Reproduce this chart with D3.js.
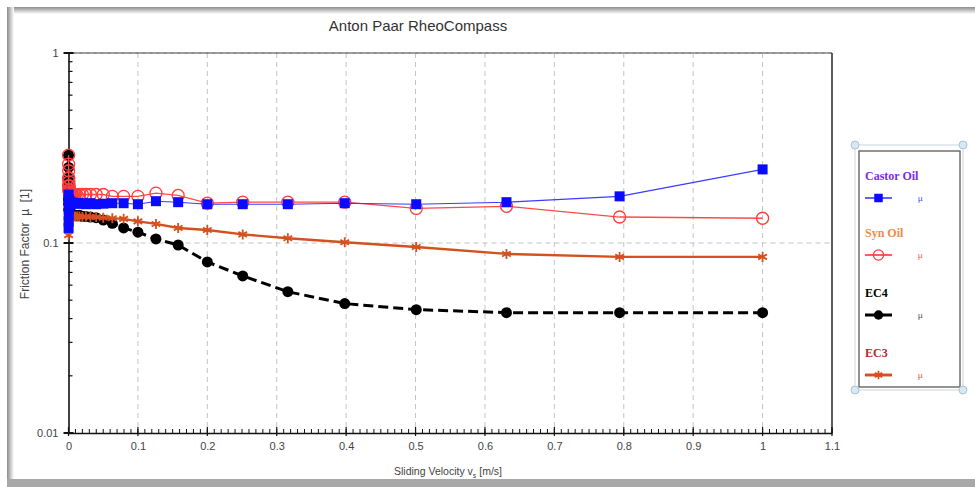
<!DOCTYPE html>
<html>
<head>
<meta charset="utf-8">
<script src="https://cdn.jsdelivr.net/npm/d3@7"></script>
<style>
  body { margin: 0; background: #fff; }
  svg { display: block; font-family: Arial, "Liberation Sans", sans-serif; }
</style>
</head>
<body>
<svg width="975" height="487"></svg>
<script>
// sliding velocity (m/s), log spaced, shared by all four curves
var velocity = [0.0001, 0.000126, 0.000158, 0.0002, 0.000251, 0.000316, 0.000398, 0.000501, 0.000631, 0.000794,
    0.001, 0.00126, 0.00158, 0.002, 0.00251, 0.00316, 0.00398, 0.00501, 0.00631, 0.00794,
    0.01, 0.0126, 0.0158, 0.02, 0.0251, 0.0316, 0.0398, 0.0501, 0.0631, 0.0794,
    0.1, 0.126, 0.158, 0.2, 0.251, 0.316, 0.398, 0.501, 0.631, 0.794, 1];

var castorOil = [0.18, 0.12, 0.17, 0.13, 0.17, 0.14, 0.16, 0.15, 0.165, 0.15,
    0.165, 0.155, 0.165, 0.16, 0.165, 0.16, 0.163, 0.162, 0.163, 0.162,
    0.162, 0.162, 0.161, 0.162, 0.16, 0.162, 0.16, 0.161, 0.162, 0.162,
    0.16, 0.166, 0.164, 0.16, 0.16, 0.16, 0.162, 0.16, 0.164, 0.176, 0.244];

var synOil = [0.29, 0.22, 0.26, 0.2, 0.24, 0.19, 0.22, 0.2, 0.21, 0.19,
    0.2, 0.19, 0.185, 0.19, 0.18, 0.185, 0.18, 0.18, 0.178, 0.18,
    0.18, 0.178, 0.18, 0.18, 0.18, 0.18, 0.18, 0.18, 0.176, 0.176,
    0.176, 0.183, 0.178, 0.162, 0.164, 0.164, 0.164, 0.152, 0.156, 0.137, 0.135];

var ec4 = [0.29, 0.2, 0.25, 0.17, 0.22, 0.16, 0.19, 0.15, 0.17, 0.15,
    0.16, 0.15, 0.15, 0.145, 0.145, 0.14, 0.142, 0.14, 0.14, 0.14,
    0.14, 0.139, 0.14, 0.138, 0.138, 0.137, 0.136, 0.132, 0.127, 0.12,
    0.114, 0.105, 0.0976, 0.0795, 0.0671, 0.0554, 0.048, 0.0446, 0.043, 0.043, 0.043];

var ec3 = [0.155, 0.11, 0.15, 0.12, 0.15, 0.125, 0.145, 0.13, 0.145, 0.132,
    0.142, 0.135, 0.14, 0.136, 0.14, 0.137, 0.139, 0.138, 0.139, 0.138,
    0.138, 0.138, 0.138, 0.137, 0.138, 0.137, 0.137, 0.136, 0.135, 0.134,
    0.13, 0.126, 0.12, 0.117, 0.111, 0.106, 0.101, 0.0953, 0.0876, 0.0845, 0.0845];

var xTicks = [0, 0.1, 0.2, 0.3, 0.4, 0.5, 0.6, 0.7, 0.8, 0.9, 1, 1.1];
var yTicks = [0.01, 0.1, 1];
var yTickLabels = ["0.01", "0.1", "1"];

// drawing order: EC4 at the back, Castor Oil on top
var series = [
    { name: "EC4", values: ec4, line: "#000", width: 3, dash: "10,5", marker: "dot", text: "#000" },
    { name: "EC3", values: ec3, line: "#d4501f", width: 2.4, dash: null, marker: "star", text: "#b8282e" },
    { name: "Syn Oil", values: synOil, line: "#ff4a4a", width: 1.3, dash: null, marker: "ring", text: "#f08a48" },
    { name: "Castor Oil", values: castorOil, line: "#3b3bff", width: 1.1, dash: null, marker: "square", text: "#7a2cf0" }
];

var svg = d3.select("svg");

// screenshot style frame
var defs = svg.append("defs");
var gTop = defs.append("linearGradient").attr("id", "shTop").attr("x1", 0).attr("y1", 0).attr("x2", 0).attr("y2", 1);
gTop.append("stop").attr("offset", "0%").attr("stop-color", "#8c8c8c");
gTop.append("stop").attr("offset", "100%").attr("stop-color", "#fff");
var gLeft = defs.append("linearGradient").attr("id", "shLeft").attr("x1", 0).attr("y1", 0).attr("x2", 1).attr("y2", 0);
gLeft.append("stop").attr("offset", "0%").attr("stop-color", "#8c8c8c");
gLeft.append("stop").attr("offset", "100%").attr("stop-color", "#fff");
svg.append("rect").attr("x", 7).attr("y", 7).attr("width", 968).attr("height", 7).attr("fill", "url(#shTop)");
svg.append("rect").attr("x", 7).attr("y", 7).attr("width", 7).attr("height", 472).attr("fill", "url(#shLeft)");
svg.append("rect").attr("x", 7).attr("y", 479).attr("width", 968).attr("height", 8).attr("fill", "#a8a8a8");

var x = d3.scaleLinear().domain([0, 1.1]).range([68.5, 832]);
var y = d3.scaleLog().domain([0.01, 1]).range([433, 53]);

var g = svg.append("g");

// grid
g.selectAll(".vgrid")
    .data(xTicks.slice(1, -1))
    .enter().append("line")
    .attr("x1", d => x(d)).attr("x2", d => x(d))
    .attr("y1", y(1)).attr("y2", y(0.01))
    .attr("stroke", "#c4c4c4").attr("stroke-dasharray", "5,4");
g.selectAll(".hgrid")
    .data([0.1])
    .enter().append("line")
    .attr("x1", x(0)).attr("x2", x(1.1))
    .attr("y1", d => y(d)).attr("y2", d => y(d))
    .attr("stroke", "#c4c4c4").attr("stroke-dasharray", "5,4");

// frame top and right
g.append("line").attr("x1", x(0)).attr("x2", x(1.1)).attr("y1", y(1)).attr("y2", y(1))
    .attr("stroke", "#6a6a6a").attr("stroke-width", 1.6);
g.append("line").attr("x1", x(0)).attr("x2", x(1.1)).attr("y1", y(1)).attr("y2", y(1))
    .attr("stroke", "#bbb").attr("stroke-width", 0.8).attr("stroke-dasharray", "4,3");
g.append("line").attr("x1", x(1.1)).attr("x2", x(1.1)).attr("y1", y(1)).attr("y2", y(0.01))
    .attr("stroke", "#333").attr("stroke-width", 1.6);

// x axis
var xAxis = g.append("g")
    .attr("transform", "translate(0," + y(0.01) + ")")
    .call(d3.axisBottom(x).tickValues(xTicks).tickFormat(d3.format("")).tickSize(0).tickPadding(9));
xAxis.select(".domain").attr("stroke", "#111").attr("stroke-width", 1.6);
xAxis.selectAll("text").attr("fill", "#444").style("font-size", "11px");
var xMinor = d3.range(0, 111).map(i => i / 100);
g.selectAll(".xminor")
    .data(xMinor)
    .enter().append("line")
    .attr("x1", d => x(d)).attr("x2", d => x(d))
    .attr("y1", y(0.01)).attr("y2", y(0.01) - 4)
    .attr("stroke", "#111").attr("stroke-width", 1);
g.selectAll(".xmajor")
    .data(xTicks)
    .enter().append("line")
    .attr("x1", d => x(d)).attr("x2", d => x(d))
    .attr("y1", y(0.01) + 3).attr("y2", y(0.01) - 6)
    .attr("stroke", "#111").attr("stroke-width", 1.2);

// y axis
var yAxis = g.append("g")
    .attr("transform", "translate(" + x(0) + ",0)")
    .call(d3.axisLeft(y).tickValues(yTicks).tickFormat((d, i) => yTickLabels[i]).tickSize(0).tickPadding(10));
yAxis.select(".domain").attr("stroke", "#111").attr("stroke-width", 1.6);
yAxis.selectAll("text").attr("fill", "#444").style("font-size", "11px");
var yMinor = [];
[0.01, 0.1].forEach(b => d3.range(2, 10).forEach(k => yMinor.push(b * k)));
g.selectAll(".yminor")
    .data(yMinor)
    .enter().append("line")
    .attr("x1", x(0)).attr("x2", x(0) + 4)
    .attr("y1", d => y(d)).attr("y2", d => y(d))
    .attr("stroke", "#111").attr("stroke-width", 1.2);
g.selectAll(".ymajor")
    .data(yTicks)
    .enter().append("line")
    .attr("x1", x(0) - 5).attr("x2", x(0) + 5)
    .attr("y1", d => y(d)).attr("y2", d => y(d))
    .attr("stroke", "#111").attr("stroke-width", 2);

// titles
svg.append("text").attr("x", 418).attr("y", 31).attr("text-anchor", "middle")
    .style("font-size", "15px").attr("fill", "#333").text("Anton Paar RheoCompass");

var xt = svg.append("text").attr("x", 448).attr("y", 475).attr("text-anchor", "middle")
    .style("font-size", "10.5px").attr("fill", "#444");
xt.append("tspan").text("Sliding Velocity v");
xt.append("tspan").attr("dy", 3).style("font-size", "7px").text("s");
xt.append("tspan").attr("dy", -3).text("  [m/s]");

svg.append("text").attr("transform", "translate(29,244) rotate(-90)").attr("text-anchor", "middle")
    .style("font-size", "12px").attr("fill", "#444").attr("xml:space", "preserve")
    .text("Friction Factor  \u00b5  [1]");

// markers
function drawMarker(sel, s, size) {
    var k = size || 1;
    if (s.marker === "square") {
        sel.append("rect").attr("x", -5 * k).attr("y", -5 * k).attr("width", 10 * k).attr("height", 10 * k)
            .attr("fill", "#0a0aff");
    } else if (s.marker === "ring") {
        sel.append("circle").attr("r", 6 * k).attr("fill", "none").attr("stroke", "#ff3b3b").attr("stroke-width", 1.3);
    } else if (s.marker === "dot") {
        sel.append("circle").attr("r", 5.5 * k).attr("fill", "#000");
    } else {
        sel.append("path").attr("d", d3.symbol(d3.symbolAsterisk, 70 * k * k)())
            .attr("fill", "none").attr("stroke", "#d4501f").attr("stroke-width", 1.8);
    }
}

var line = d3.line().x(d => x(d[0])).y(d => y(d[1]));

series.forEach(function (s) {
    var pts = velocity.map((v, i) => [v, s.values[i]]);
    g.append("path")
        .datum(pts)
        .attr("d", line)
        .attr("fill", "none")
        .attr("stroke", s.line)
        .attr("stroke-width", s.width)
        .attr("stroke-dasharray", s.dash);
    g.selectAll(null)
        .data(pts)
        .enter().append("g")
        .attr("transform", d => "translate(" + x(d[0]) + "," + y(d[1]) + ")")
        .each(function () { drawMarker(d3.select(this), s); });
});

// legend
var lg = svg.append("g");
lg.append("rect").attr("x", 855).attr("y", 145).attr("width", 108).attr("height", 245)
    .attr("fill", "#fff").attr("stroke", "#c9d6de").attr("stroke-width", 1);
lg.append("rect").attr("x", 859).attr("y", 151).attr("width", 101).attr("height", 236)
    .attr("fill", "none").attr("stroke", "#666").attr("stroke-width", 1.4);
[[855, 145], [963, 145], [855, 390], [963, 390]].forEach(function (c) {
    lg.append("circle").attr("cx", c[0]).attr("cy", c[1]).attr("r", 4)
        .attr("fill", "#d7e8f2").attr("stroke", "#a9c6d6");
});

var legendOrder = ["Castor Oil", "Syn Oil", "EC4", "EC3"];
var legendTop = [180, 237, 297, 357];
legendOrder.forEach(function (name, i) {
    var s = series.find(d => d.name === name);
    var ty = legendTop[i];
    lg.append("text").attr("x", 865).attr("y", ty)
        .style("font-family", "'Liberation Serif', 'DejaVu Serif', serif")
        .style("font-weight", "bold").style("font-size", "12px")
        .attr("fill", s.text).text(name);
    var ly = ty + 18;
    lg.append("line").attr("x1", 865).attr("x2", 892).attr("y1", ly).attr("y2", ly)
        .attr("stroke", s.line).attr("stroke-width", s.marker === "dot" ? 3 : s.width + 0.5);
    var m = lg.append("g").attr("transform", "translate(878.5," + ly + ")");
    drawMarker(m, s, 0.85);
    lg.append("text").attr("x", 918).attr("y", ly + 3)
        .style("font-size", "8px").attr("fill", s.marker === "dot" ? "#444" : s.line).text("\u00b5");
});
</script>
</body>
</html>
